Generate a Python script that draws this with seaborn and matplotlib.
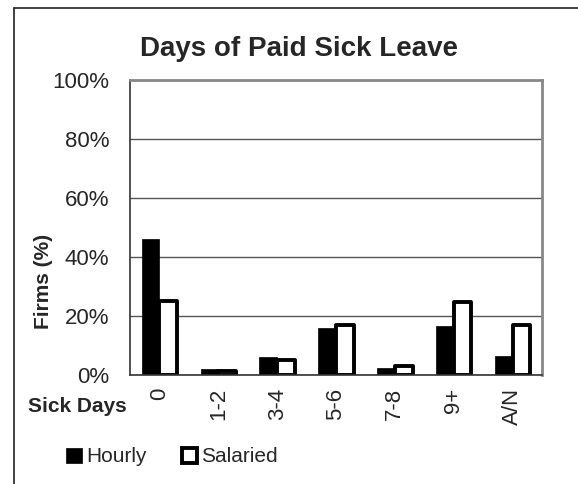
import matplotlib
matplotlib.use("Agg")
import matplotlib.pyplot as plt
from matplotlib.patches import Patch
from matplotlib.lines import Line2D
import seaborn as sns
import pandas as pd

categories = ["0", "1-2", "3-4", "5-6", "7-8", "9+", "A/N"]
hourly = [46, 2, 6, 16, 2.5, 16.6, 6.4]
salaried = [25.2, 1.5, 5.2, 17, 2.9, 24.6, 17]
series_names = ["Hourly", "Salaried"]
yticks = [0, 20, 40, 60, 80, 100]
ytick_labels = ["0%", "20%", "40%", "60%", "80%", "100%"]

df = pd.DataFrame({
    "Sick Days": categories * 2,
    "Pct": hourly + salaried,
    "Type": [series_names[0]] * len(categories) + [series_names[1]] * len(categories),
})

sns.set_style("white")
plt.rcParams["font.family"] = ["Liberation Sans", "DejaVu Sans"]

fig = plt.figure(figsize=(5.78, 4.84), dpi=100)
W, H = 578, 484
ax = fig.add_axes([130 / W, 1 - 375 / H, (542 - 130) / W, (375 - 80) / H])

sns.barplot(data=df, x="Sick Days", y="Pct", hue="Type", order=categories,
            hue_order=series_names, palette=["black", "white"], width=0.6,
            gap=0, ax=ax, legend=False, saturation=1)

for bar in ax.containers[0]:
    bar.set_edgecolor("black")
    bar.set_linewidth(0.5)
for bar in ax.containers[1]:
    bar.set_facecolor("white")
    bar.set_edgecolor("black")
    bar.set_linewidth(2.8)
    bar.set_joinstyle("round")

ax.set_ylim(0, 100)
ax.set_xlim(-0.5, len(categories) - 0.5)
ax.set_yticks(yticks)
ax.set_yticklabels(ytick_labels, fontsize=16)
ax.set_xticks(range(len(categories)))
ax.set_xticklabels(categories, rotation=90, fontsize=16)
ax.set_xticks([i - 0.5 for i in range(len(categories) + 1)], minor=True)
ax.tick_params(axis="x", which="major", length=0, pad=9)
ax.tick_params(axis="x", which="minor", length=5, width=1, color="#333333", direction="out")
ax.tick_params(axis="y", length=5, width=1, color="#333333", direction="out", pad=10)

ax.yaxis.grid(True, color="#555555", linewidth=1)
ax.set_axisbelow(True)
for s in ["left", "bottom"]:
    ax.spines[s].set_color("#333333")
    ax.spines[s].set_linewidth(1.2)
for s in ["top", "right"]:
    ax.spines[s].set_visible(True)
    ax.spines[s].set_color("#888888")
    ax.spines[s].set_linewidth(2)

ax.set_xlabel("")
ax.set_ylabel("")
fig.text(43.5 / W, 1 - 281 / H, "Firms (%)", fontsize=15, fontweight="bold",
         rotation=90, ha="center", va="center")

fig.text(299 / W, 1 - 49 / H, "Days of Paid Sick Leave", fontsize=20,
         fontweight="bold", ha="center", va="center")
fig.text(28 / W, 1 - 406 / H, "Sick Days", fontsize=15, fontweight="bold",
         ha="left", va="center")

handles = [Patch(facecolor="black", edgecolor="black", linewidth=0.5),
           Patch(facecolor="white", edgecolor="black", linewidth=2.8)]
fig.legend(handles, series_names, loc="center left",
           bbox_to_anchor=(66 / W, 1 - 457 / H), ncol=2, frameon=False,
           fontsize=15, handlelength=0.75, handleheight=0.75, handletextpad=0.2,
           columnspacing=1.7, borderaxespad=0, borderpad=0)

fig.add_artist(Line2D([14 / W, 14 / W], [0, 1 - 8 / H], transform=fig.transFigure,
                      color="#222222", linewidth=1.2))
fig.add_artist(Line2D([14 / W, 1], [1 - 8 / H, 1 - 8 / H], transform=fig.transFigure,
                      color="#222222", linewidth=1.2))

fig.savefig("out.png", dpi=100)
